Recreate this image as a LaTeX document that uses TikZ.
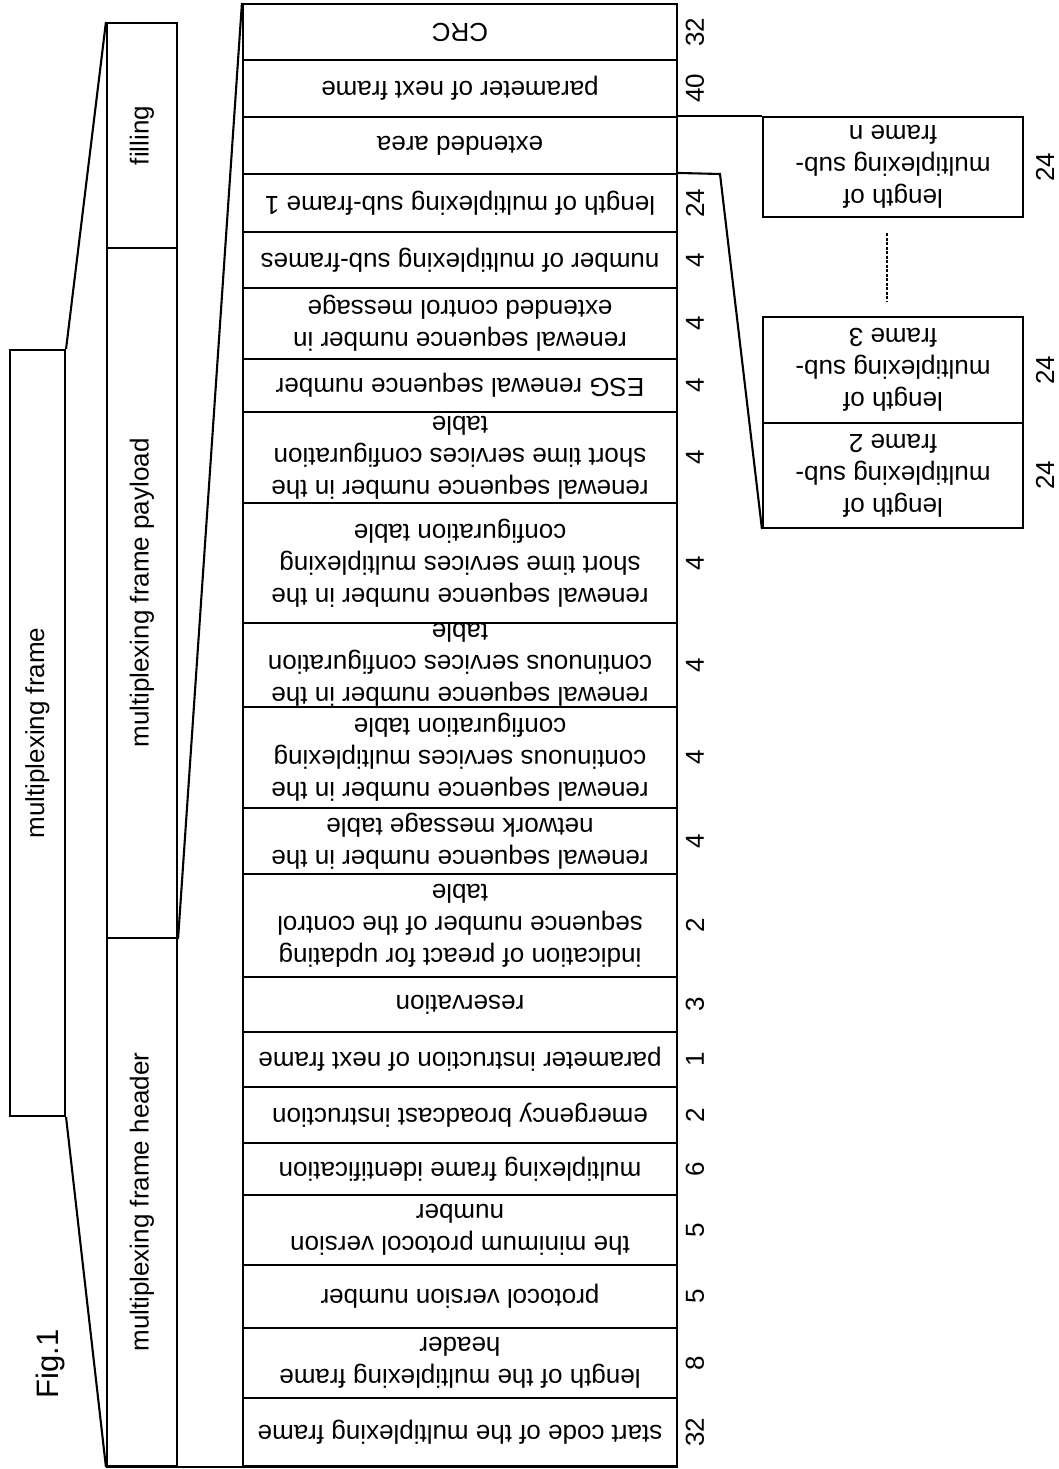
\documentclass[tikz,border=0pt]{standalone}
\usepackage{fontspec}
\setmainfont{Liberation Sans}
\begin{document}
\begin{tikzpicture}[x=1pt,y=-1pt,line width=2.1pt]
\tikzset{
  box/.style={draw,line width=2.1pt,inner sep=0pt,anchor=center},
  cell/.style={box,minimum width=434pt},
  subbox/.style={box,minimum width=260pt},
  txt/.style={font=\fontsize{26}{32}\selectfont,align=center,inner sep=0pt},
  flip/.style={txt,rotate=180},
  side/.style={txt,rotate=90},
  numtxt/.style={txt,rotate=90},
  dotline/.style={line width=2.6pt,dash pattern=on 3pt off 1.5pt}
}
\useasboundingbox (0,0) rectangle (1059,1469);

% left structure
\node[box,minimum width=55pt,minimum height=766pt] (mf) at (37.5,733) {};
\node[side] at (mf) {multiplexing frame};
\node[box,minimum width=70pt,minimum height=225pt] (fill) at (142,135.5) {};
\node[side] at (fill) {filling};
\node[box,minimum width=70pt,minimum height=690pt] (pay) at (142,593) {};
\node[side] at (pay) {multiplexing frame payload};
\node[box,minimum width=70pt,minimum height=528pt] (head) at (142,1202) {};
\node[side] at (head) {multiplexing frame header};
\node[txt,rotate=90,font=\fontsize{31}{36}\selectfont] (fig) at (50,1364) {Fig.1};

% main table
\foreach \t/\b/\n/\s [count=\i] in {
  4/60/32/{CRC},
  60/117/40/{parameter of next frame},
  117/174//{extended area},
  174/232/24/{length of multiplexing sub-frame 1},
  232/288/4/{number of multiplexing sub-frames},
  288/359/4/{renewal sequence number in\\extended control message},
  359/412/4/{ESG renewal sequence number},
  412/503/4/{renewal sequence number in the\\short time services configuration\\table},
  503/623/4/{renewal sequence number in the\\short time services multiplexing\\configuration table},
  623/707/4/{renewal sequence number in the\\continuous services configuration\\table},
  707/808/4/{renewal sequence number in the\\continuous services multiplexing\\configuration table},
  808/874/4/{renewal sequence number in the\\network message table},
  874/977/2/{indication of preact for updating\\sequence number of the control\\table},
  977/1032/3/{reservation},
  1032/1087/1/{parameter instruction of next frame},
  1087/1143/2/{emergency broadcast instruction},
  1143/1195/6/{multiplexing frame identification},
  1195/1265/5/{the minimum protocol version\\number},
  1265/1328/5/{protocol version number},
  1328/1398/8/{length of the multiplexing frame\\header},
  1398/1466/32/{start code of the multiplexing frame}} {
  \node[cell,minimum height={\b-\t}] (row\i) at (460,{(\t+\b)/2}) {};
  \node[flip] (rowt\i) at (row\i.center) {\s};
  \node[numtxt] (rown\i) at (695,{(\t+\b)/2}) {\n};
}

% sub-frame boxes
\node[subbox,minimum height=100pt] (sn) at (893,167) {};
\node[flip] at (sn) {length of\\multiplexing sub-\\frame n};
\node[numtxt] (nn) at (1045,167) {24};
\node[subbox,minimum height=106pt] (s3) at (893,370) {};
\node[flip] at (s3) {length of\\multiplexing sub-\\frame 3};
\node[numtxt] (n3) at (1045,370) {24};
\node[subbox,minimum height=105pt] (s2) at (893,475.5) {};
\node[flip] at (s2) {length of\\multiplexing sub-\\frame 2};
\node[numtxt] (n2) at (1045,475.5) {24};

% connectors
\draw (mf.north east) -- (fill.north west);
\draw (mf.south east) -- (head.south west);
\draw (pay.south east) -- (row1.north west);
\draw (head.south west) -- (row21.south east);
\draw (row3.north east) -- (sn.north west);
\coordinate (bend) at (720,174);
\draw (row4.north east) -- (bend) -- (s2.south west);
\draw[dotline,shorten <=15pt,shorten >=15pt] ([xshift=-6pt]sn.south) -- ([xshift=-6pt]s3.north);
\end{tikzpicture}
\end{document}
